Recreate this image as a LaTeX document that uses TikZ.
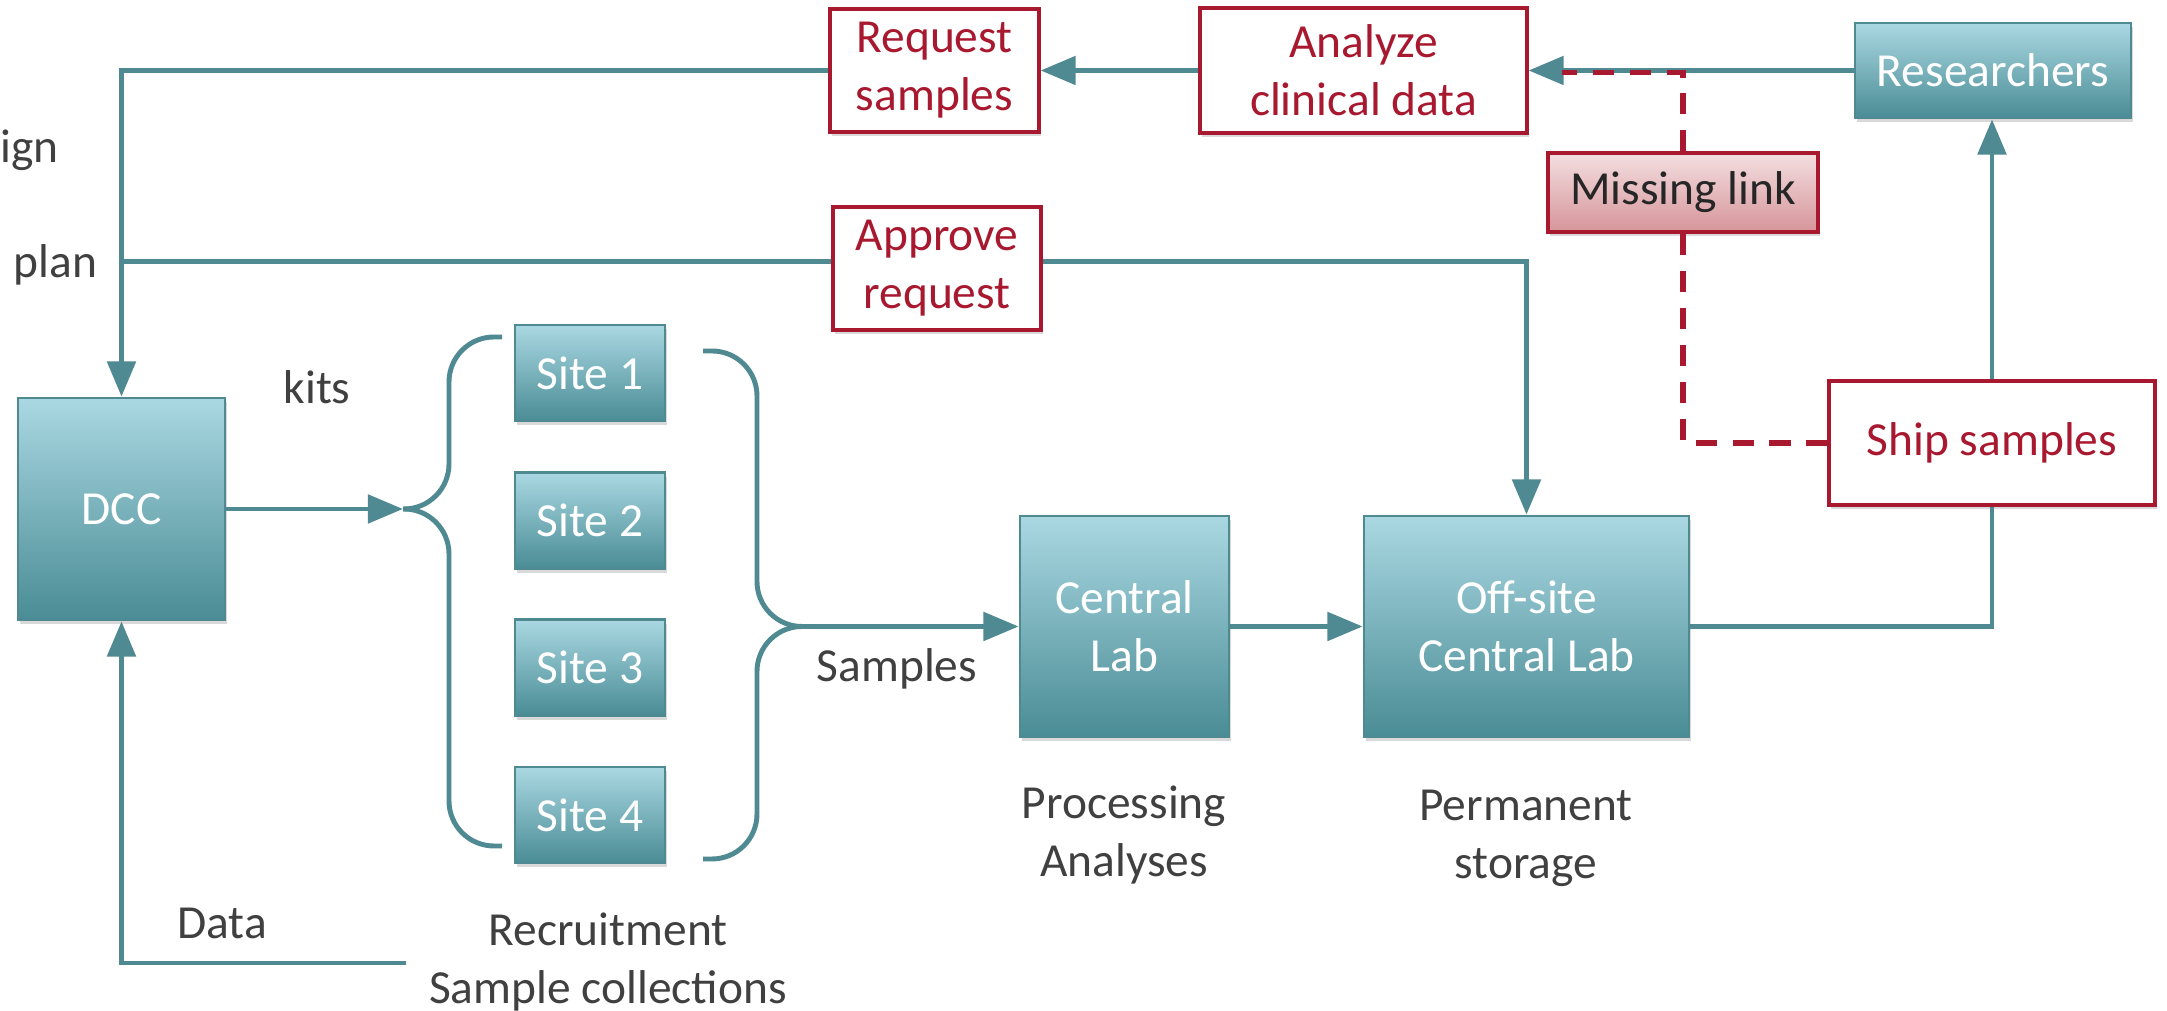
\documentclass[tikz,border=0pt]{standalone}
\usepackage{fontspec}
\setmainfont{Carlito}
\usetikzlibrary{arrows.meta,shadows}

\definecolor{tealline}{HTML}{4F8991}
\definecolor{tealtop}{HTML}{AAD8E2}
\definecolor{tealbot}{HTML}{4A8C95}
\definecolor{darkred}{HTML}{A8182F}
\definecolor{pinktop}{HTML}{F3DFE0}
\definecolor{pinkbot}{HTML}{D6949A}
\definecolor{labelgray}{HTML}{404040}

\tikzset{
  boxshadow/.style={drop shadow={shadow xshift=0.5pt,shadow yshift=-1.2pt,opacity=0.3}},
  tealbox/.style={draw=tealline,line width=0.8pt,top color=tealtop,bottom color=tealbot,
    text=white,align=center,inner sep=0pt,boxshadow},
  redbox/.style={draw=darkred,line width=0.9pt,fill=white,text=darkred,align=center,
    inner sep=0pt,boxshadow},
  linkbox/.style={redbox,top color=pinktop,bottom color=pinkbot,text=black!85},
  flow/.style={draw=tealline,line width=1.4pt},
  flowarrow/.style={-{Triangle[length=10pt,width=8pt]}},
  missinglink/.style={draw=darkred,line width=1.45pt,dash pattern=on 6pt off 4.5pt},
  lbl/.style={text=labelgray,align=center,inner sep=0pt},
}

\begin{document}
\begin{tikzpicture}[font=\fontsize{13.5}{16.5}\selectfont]
\useasboundingbox (0,0) rectangle (21.67,10.11);

\node[tealbox,minimum width=2.07cm,minimum height=2.22cm] (dcc) at (1.215,5.02) {DCC};
\foreach \i/\y in {1/6.38,2/4.905,3/3.435,4/1.96}
  \node[tealbox,minimum width=1.5cm,minimum height=0.96cm] (site\i) at (5.90,\y) {Site \i};
\node[tealbox,minimum width=2.09cm,minimum height=2.21cm] (clab) at (11.245,3.845) {Central\\Lab};
\node[tealbox,minimum width=3.25cm,minimum height=2.21cm] (offsite) at (15.265,3.845) {Off-site\\Central Lab};
\node[tealbox,minimum width=2.76cm,minimum height=0.95cm] (researchers) at (19.93,9.405) {Researchers};

\node[redbox,minimum width=2.09cm,minimum height=1.23cm] (request) at (9.345,9.405) {Request\\samples};
\node[redbox,minimum width=3.27cm,minimum height=1.25cm] (analyze) at (13.635,9.405) {Analyze\\clinical data};
\node[redbox,minimum width=2.08cm,minimum height=1.23cm] (approve) at (9.37,7.425) {Approve\\request};
\node[redbox,minimum width=3.26cm,minimum height=1.24cm] (ship) at (19.92,5.68) {Ship samples};
\node[linkbox,minimum width=2.70cm,minimum height=0.79cm] (missing) at (16.83,8.185) {Missing link};

\node[lbl,anchor=base west] (designlbl) at (0,8.48) {ign};
\node[lbl,anchor=base west] (planlbl) at (0.13,7.33) {plan};
\node[lbl,anchor=base] (kitslbl) at (3.17,6.07) {kits};
\node[lbl,anchor=base] (datalbl) at (2.22,0.72) {Data};
\node[lbl,anchor=base] (sampleslbl) at (8.97,3.29) {Samples};
\node[lbl] (recruitlbl) at (6.08,0.49) {Recruitment\\Sample collections};
\node[lbl] (proclbl) at (11.24,1.76) {Processing\\Analyses};
\node[lbl] (storelbl) at (15.26,1.73) {Permanent\\storage};

\coordinate (kitsfork) at (4.03,5.02);
\coordinate (samplesfork) at (8.07,3.845);
\coordinate (dataend) at (4.06,0.48);
\coordinate (linkend) at (15.62,9.385);

\draw[flow,flowarrow] (request.west) -| (dcc.north);
\draw[flow] ([yshift=2.1pt]approve.west) -- ([yshift=2.1pt]approve.west -| dcc.north);
\draw[flow,flowarrow] ([yshift=2.1pt]approve.east) -| (offsite.north);
\draw[flow,flowarrow] (analyze.west) -- (request.east);
\draw[flow,flowarrow] (researchers.west) -- (analyze.east);

% dashed link from shipping back to the clinical data
\draw[missinglink] (ship.west) -| (missing.south);
\draw[missinglink] (missing.north) |- (linkend);

% kits out to the sites, samples back in
\draw[flow,flowarrow] (dcc.east) -- (kitsfork);
\draw[flow,rounded corners=0.45cm] (kitsfork) -- (4.49,5.02) -- (4.49,6.74) -- (5.02,6.74);
\draw[flow,rounded corners=0.45cm] (kitsfork) -- (4.49,5.02) -- (4.49,1.65) -- (5.02,1.65);
\draw[flow,rounded corners=0.45cm] (samplesfork) -- (7.57,3.845) -- (7.57,6.60) -- (7.03,6.60);
\draw[flow,rounded corners=0.45cm] (samplesfork) -- (7.57,3.845) -- (7.57,1.52) -- (7.03,1.52);
\draw[flow,flowarrow] (samplesfork) -- (clab.west);
\draw[flow,flowarrow] (clab.east) -- (offsite.west);
\draw[flow] (offsite.east) -| (ship.south);
\draw[flow,flowarrow] (ship.north) -- (ship.north |- researchers.south);
\draw[flow,flowarrow] (dataend) -| (dcc.south);
\end{tikzpicture}
\end{document}
